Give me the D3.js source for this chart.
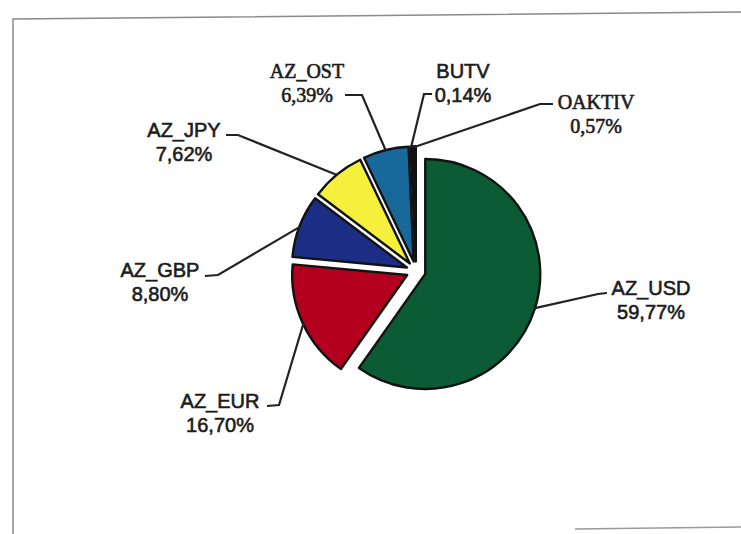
<!DOCTYPE html>
<html>
<head>
<meta charset="utf-8">
<script src="https://cdn.jsdelivr.net/npm/d3@7"></script>
<style>
  body { margin: 0; background: #fff; }
</style>
</head>
<body>
<div id="chart"></div>
<script>
// Portfolio shares by currency (%), clockwise from 12 o'clock
const names = ["AZ_USD", "AZ_EUR", "AZ_GBP", "AZ_JPY", "AZ_OST", "BUTV", "OAKTIV"];
const shares = [59.77, 16.70, 8.80, 7.62, 6.39, 0.14, 0.57];
const shareLabels = ["59,77%", "16,70%", "8,80%", "7,62%", "6,39%", "0,14%", "0,57%"];
const colors = ["#0b5b34", "#b3001f", "#1b2d85", "#f5f03c", "#17699c", "#0e2433", "#121212"];

// label layout: text centre, baseline, leader elbow and end, font
const labelLayout = {
  AZ_USD: { x: 651, y: 295, elbow: [598, 294], end: [607, 293], serif: false },
  AZ_EUR: { x: 220, y: 408, elbow: [279, 405], end: [267, 406], serif: false },
  AZ_GBP: { x: 160, y: 277, elbow: [218, 275], end: [205, 276], serif: false },
  AZ_JPY: { x: 184, y: 137, elbow: [238, 135], end: [226, 135], serif: false },
  AZ_OST: { x: 307, y: 78, elbow: [362, 95], end: [345, 95], serif: true },
  BUTV:   { x: 463, y: 78, elbow: [424, 94], end: [432, 94], serif: false },
  OAKTIV: { x: 596, y: 109, elbow: [540, 104], end: [553, 104], serif: true }
};

const width = 741, height = 534;
const cx = 416, cy = 271, radius = 115, explode = 9.7;

const svg = d3.select("#chart")
  .append("svg")
  .attr("width", width)
  .attr("height", height);

// scanned frame (left, top and a bit of the bottom)
svg.append("path")
  .attr("d", "M13,534 L13,19 L741,12")
  .attr("fill", "none")
  .attr("stroke", "#8a8a8a")
  .attr("stroke-width", 1.5);
svg.append("path")
  .attr("d", "M575,529 L741,527")
  .attr("fill", "none")
  .attr("stroke", "#9a9a9a")
  .attr("stroke-width", 1.5);

const data = names.map((n, i) => ({ name: n, value: shares[i], label: shareLabels[i], color: colors[i] }));

const pie = d3.pie()
  .value(d => d.value)
  .sort(null)
  .startAngle(0)
  .endAngle(2 * Math.PI);

const arc = d3.arc()
  .innerRadius(0)
  .outerRadius(radius);

const arcs = pie(data);

const g = svg.append("g")
  .attr("transform", `translate(${cx},${cy})`);

// exploded slices
g.selectAll("path.slice")
  .data(arcs)
  .enter()
  .append("path")
  .attr("class", "slice")
  .attr("d", arc)
  .attr("transform", d => {
    const mid = (d.startAngle + d.endAngle) / 2;
    return `translate(${Math.sin(mid) * explode},${-Math.cos(mid) * explode})`;
  })
  .attr("fill", d => d.data.color)
  .attr("stroke", "#121212")
  .attr("stroke-width", 2.4)
  .attr("stroke-linejoin", "round");

// leader lines from the outer edge of each slice to its label
arcs.forEach(d => {
  const mid = (d.startAngle + d.endAngle) / 2;
  const r = radius + explode - 1;
  const sx = cx + Math.sin(mid) * r;
  const sy = cy - Math.cos(mid) * r;
  const lay = labelLayout[d.data.name];
  svg.append("polyline")
    .attr("points", [[sx, sy], lay.elbow, lay.end].map(p => p.join(",")).join(" "))
    .attr("fill", "none")
    .attr("stroke", "#222")
    .attr("stroke-width", 2.2);
});

// labels: name and share
arcs.forEach(d => {
  const lay = labelLayout[d.data.name];
  const t = svg.append("text")
    .attr("x", lay.x)
    .attr("y", lay.y)
    .attr("text-anchor", "middle")
    .style("font-family", lay.serif ? "'Liberation Serif', 'Times New Roman', serif" : "'Liberation Sans', Arial, sans-serif")
    .style("font-size", "20px")
    .attr("fill", "#1c1c1c")
    .attr("stroke", "#1c1c1c")
    .attr("stroke-width", 0.6);
  t.append("tspan")
    .attr("x", lay.x)
    .text(d.data.name);
  t.append("tspan")
    .attr("x", lay.x)
    .attr("dy", 24)
    .text(d.data.label);
});
</script>
</body>
</html>
